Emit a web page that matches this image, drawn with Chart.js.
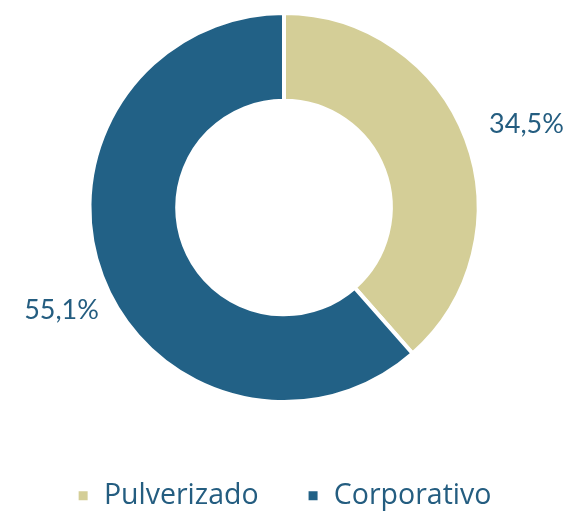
<!DOCTYPE html>
<html lang="es">
<head>
    <meta charset="UTF-8">
    <title>Pulverizado vs Corporativo</title>
    <script src="https://cdn.jsdelivr.net/npm/chart.js"></script>
    <style>
        body { margin: 0; background: #ffffff; }
    </style>
</head>
<body>
    <canvas id="donutChart" width="575" height="515"></canvas>

    <script>
        // Datos
        const categorias = ['Pulverizado', 'Corporativo'];
        const valores = [34.5, 55.1];
        const etiquetas = ['34,5%', '55,1%'];
        const colores = ['#d4ce97', '#226186'];

        const colorTexto = '#245d80';

        // Etiquetas de porcentaje fuera del anillo (pequeño ajuste por etiqueta)
        const ajustes = [[9, 5], [11, 15]];
        const etiquetasExternas = {
            id: 'etiquetasExternas',
            afterDatasetsDraw(chart) {
                const ctx = chart.ctx;
                const meta = chart.getDatasetMeta(0);
                ctx.save();
                ctx.fillStyle = colorTexto;
                ctx.font = '27px Lato, sans-serif';
                ctx.textAlign = 'center';
                ctx.textBaseline = 'middle';
                meta.data.forEach((arc, i) => {
                    const p = arc.getProps(['x', 'y', 'startAngle', 'endAngle', 'outerRadius'], true);
                    const ang = (p.startAngle + p.endAngle) / 2;
                    const r = p.outerRadius + 55;
                    ctx.fillText(etiquetas[i],
                        p.x + Math.cos(ang) * r + ajustes[i][0],
                        p.y + Math.sin(ang) * r + ajustes[i][1]);
                });
                ctx.restore();
            }
        };

        const ctx = document.getElementById('donutChart').getContext('2d');
        new Chart(ctx, {
            type: 'doughnut',
            data: {
                labels: categorias,
                datasets: [{
                    data: valores,
                    backgroundColor: colores,
                    borderColor: '#ffffff',
                    borderWidth: 4,
                    hoverOffset: 0
                }]
            },
            options: {
                responsive: false,
                animation: false,
                cutout: '54.9%',
                layout: { padding: { top: 11, bottom: -5, left: 0, right: 7 } },
                plugins: {
                    tooltip: { enabled: false },
                    legend: {
                        position: 'bottom',
                        title: { display: true, text: '', padding: { top: 15, bottom: 0 } },
                        labels: {
                            boxWidth: 13,
                            boxHeight: 13,
                            padding: 48,
                            color: colorTexto,
                            font: { size: 28.5, family: '"Open Sans", sans-serif' }
                        }
                    }
                }
            },
            plugins: [etiquetasExternas]
        });
    </script>
</body>
</html>
